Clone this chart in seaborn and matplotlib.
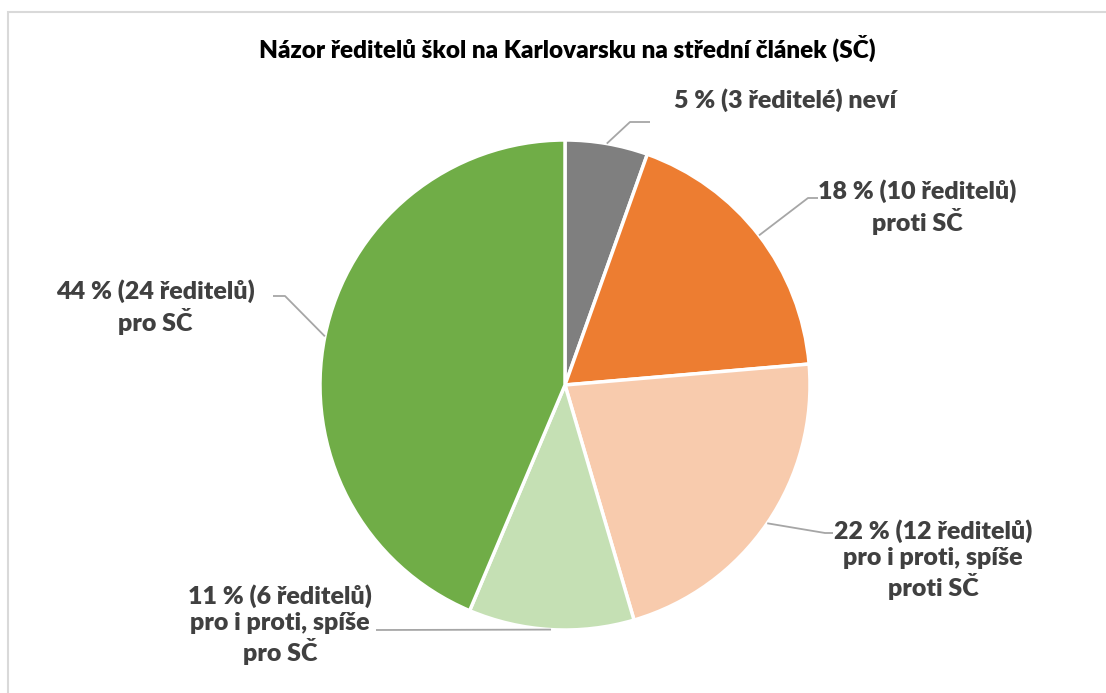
import numpy as np
import matplotlib
matplotlib.use("Agg")
import matplotlib.pyplot as plt
import seaborn as sns

# data
categories = ["neví", "proti SČ", "pro i proti, spíše proti SČ",
              "pro i proti, spíše pro SČ", "pro SČ"]
counts = [3, 10, 12, 6, 24]
percents = [5, 18, 22, 11, 44]
labels = [
    "5 % (3 ředitelé) neví",
    "18 % (10 ředitelů)\nproti SČ",
    "22 % (12 ředitelů)\npro i proti, spíše\nproti SČ",
    "11 % (6 ředitelů)\npro i proti, spíše\npro SČ",
    "44 % (24 ředitelů)\npro SČ",
]
colors = ["#7f7f7f", "#ed7d31", "#f8cbad", "#c5e0b4", "#70ad47"]
title = "Názor ředitelů škol na Karlovarsku na střední článek (SČ)"

sns.set_theme(style="white")
plt.rcParams['font.family'] = ['Lato', 'DejaVu Sans']

W, H = 1106, 693
fig = plt.figure(figsize=(W / 100, H / 100), dpi=100)
ax = fig.add_axes([0, 0, 1, 1])

cx, cy, r = 565, H - 385, 245
wedges, _ = ax.pie(counts, colors=colors, startangle=90, counterclock=False,
                   center=(cx, cy), radius=r, frame=True,
                   wedgeprops={'edgecolor': 'white', 'linewidth': 2.5})
ax.set_xlim(0, W)
ax.set_ylim(0, H)
ax.set_aspect('equal')
ax.axis('off')

# label layout: text center (px), elbow points (px)
text_pos = [(785, 100), (917, 207), (933, 560), (280, 625), (155, 307)]
elbows = [
    [(630, 122), (650, 122)],
    [(808, 198), (818, 198)],
    [(825, 533), (833, 533)],
    [(376, 630)],
    [(285, 296), (273, 296)],
]
line_col = "#a6a6a6"
for w, lab, tp, el in zip(wedges, labels, text_pos, elbows):
    ang = np.deg2rad((w.theta1 + w.theta2) / 2)
    x0, y0 = cx + r * np.cos(ang), cy + r * np.sin(ang)
    xs = [x0] + [p[0] for p in el]
    ys = [y0] + [H - p[1] for p in el]
    ax.plot(xs, ys, color=line_col, lw=1.3, solid_capstyle='butt')
    ax.text(tp[0], H - tp[1], lab, ha='center', va='center', fontsize=18,
            fontweight='heavy', color='#404040', linespacing=1.2)

fig.text(567 / W, 1 - 48 / H, title, ha='center', va='center', fontsize=17.5,
         fontweight='heavy', color='black')

# outer border (only left/top visible)
fig.patches.append(plt.Rectangle((8 / W, -0.01), 1.2, 1 - 12 / H + 0.01,
                                 transform=fig.transFigure, fill=False,
                                 edgecolor='#d9d9d9', lw=1.5))

fig.savefig("out.png", dpi=100)
